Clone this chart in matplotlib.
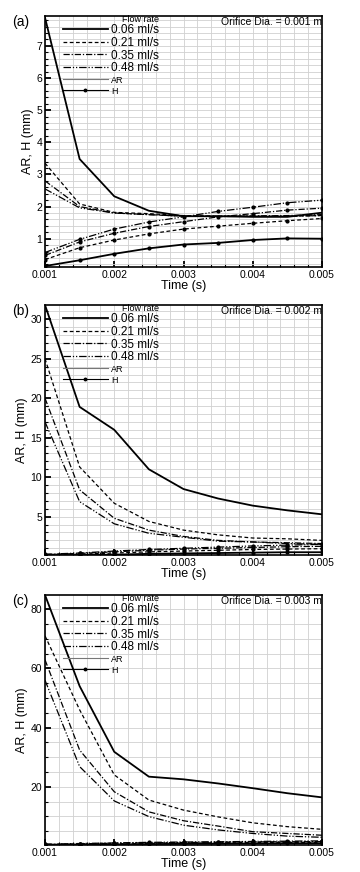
import matplotlib
matplotlib.use("Agg")
from matplotlib import pyplot as plt
from matplotlib.lines import Line2D
from matplotlib.ticker import MultipleLocator, FormatStrFormatter

plt.rcParams['font.family'] = ['Liberation Sans', 'DejaVu Sans']

# время, с
time_s = [0.001, 0.0015, 0.002, 0.0025, 0.003, 0.0035, 0.004, 0.0045, 0.005]
flow_labels = ["0.06 ml/s", "0.21 ml/s", "0.35 ml/s", "0.48 ml/s"]
panel_tags = ["(a)", "(b)", "(c)"]
orifice_labels = ["Orifice Dia. = 0.001 m", "Orifice Dia. = 0.002 m",
                  "Orifice Dia. = 0.003 m"]

# (a) d = 0.001 m
ar_a = [
    [7.88, 3.48, 2.32, 1.87, 1.70, 1.70, 1.68, 1.68, 1.81],
    [3.35, 2.08, 1.82, 1.78, 1.72, 1.70, 1.70, 1.70, 1.72],
    [2.80, 2.00, 1.80, 1.75, 1.70, 1.70, 1.71, 1.72, 1.75],
    [2.55, 1.96, 1.80, 1.75, 1.70, 1.69, 1.70, 1.70, 1.72],
]
h_a = [
    [0.15, 0.33, 0.53, 0.70, 0.82, 0.87, 0.96, 1.01, 1.00],
    [0.35, 0.72, 0.96, 1.15, 1.30, 1.39, 1.48, 1.56, 1.63],
    [0.48, 0.90, 1.17, 1.38, 1.53, 1.68, 1.78, 1.89, 1.95],
    [0.57, 0.98, 1.30, 1.52, 1.68, 1.85, 1.98, 2.12, 2.20],
]

# (b) d = 0.002 m
ar_b = [
    [31.8, 18.9, 16.0, 11.0, 8.5, 7.3, 6.4, 5.8, 5.3],
    [25.0, 11.3, 6.7, 4.4, 3.3, 2.7, 2.3, 2.2, 2.0],
    [20.0, 8.4, 4.8, 3.3, 2.5, 2.0, 1.8, 1.7, 1.6],
    [17.0, 6.9, 4.1, 2.9, 2.4, 1.9, 1.8, 1.6, 1.5],
]
h_b = [
    [0.10, 0.15, 0.20, 0.30, 0.35, 0.40, 0.45, 0.50, 0.50],
    [0.15, 0.25, 0.40, 0.55, 0.65, 0.75, 0.85, 0.90, 0.95],
    [0.20, 0.35, 0.55, 0.75, 0.90, 1.00, 1.10, 1.20, 1.25],
    [0.25, 0.40, 0.65, 0.85, 1.00, 1.15, 1.30, 1.40, 1.50],
]

# (c) d = 0.003 m
ar_c = [
    [84.8, 54.0, 31.8, 23.4, 22.5, 21.1, 19.5, 17.8, 16.4],
    [71.0, 46.0, 24.0, 15.5, 12.1, 9.8, 7.8, 6.5, 5.6],
    [62.9, 32.4, 18.3, 11.5, 8.5, 6.7, 4.8, 4.2, 3.6],
    [56.0, 26.8, 15.2, 9.9, 7.0, 5.4, 4.2, 3.3, 2.9],
]
h_c = [
    [0.30, 0.40, 0.50, 0.60, 0.70, 0.75, 0.80, 0.85, 0.90],
    [0.40, 0.55, 0.70, 0.85, 0.95, 1.05, 1.10, 1.15, 1.20],
    [0.50, 0.70, 0.90, 1.05, 1.15, 1.25, 1.35, 1.40, 1.45],
    [0.60, 0.80, 1.00, 1.20, 1.30, 1.40, 1.50, 1.60, 1.70],
]

ylims = [(0.12, 7.93), (0.15, 31.8), (0.3, 84.8)]
y_major = [1, 5, 20]
y_minor = [0.2, 1, 5]

STYLES = ['-', (0, (3, 2)), (0, (5, 1.5, 1, 1.5)), (0, (6, 1.5, 1, 1.5, 1, 1.5))]
WIDTHS = [1.3, 0.9, 0.9, 0.9]


def draw_panel(ax, ar, h, tag, orifice, ylim, major, minor):
    """
    Одна панель: AR (без маркеров) и H (с точками)
    """
    for i in range(len(flow_labels)):
        ax.plot(time_s, ar[i], color='k', ls=STYLES[i], lw=WIDTHS[i])
        ax.plot(time_s, h[i], color='k', ls=STYLES[i], lw=WIDTHS[i],
                marker='o', ms=2)

    ax.set_xlim(0.001, 0.005)
    ax.set_ylim(*ylim)
    ax.xaxis.set_major_locator(MultipleLocator(0.001))
    ax.xaxis.set_minor_locator(MultipleLocator(0.0002))
    ax.xaxis.set_major_formatter(FormatStrFormatter('%.3f'))
    ax.yaxis.set_major_locator(MultipleLocator(major))
    ax.yaxis.set_minor_locator(MultipleLocator(minor))

    ax.set_axisbelow(True)
    ax.grid(which='both', color='#d0d0d0', lw=0.6)
    ax.tick_params(which='major', direction='in', length=4, width=1.3,
                   labelsize=7.5, top=False, right=False, pad=2)
    ax.tick_params(which='minor', direction='in', length=2, width=0.8,
                   top=False, right=False)
    for sp in ax.spines.values():
        sp.set_linewidth(1.2)

    ax.set_xlabel("Time (s)", fontsize=9, labelpad=0)
    ax.set_ylabel("AR, H (mm)", fontsize=9, labelpad=2)

    ax.text(-0.12, 1.005, tag, transform=ax.transAxes, ha='left', va='top',
            fontsize=10)
    ax.text(1.0, 0.995, orifice, transform=ax.transAxes, ha='right', va='top',
            fontsize=7.5)

    handles = [Line2D([], [], color='k', ls=STYLES[i], lw=WIDTHS[i])
               for i in range(len(flow_labels))]
    handles.append(Line2D([], [], color='#777777', lw=0.8))
    handles.append(Line2D([], [], color='k', lw=0.8, marker='o', ms=1.8))
    labels = flow_labels + ["AR", "H"]
    leg = ax.legend(handles, labels, title="Flow rate", loc='upper left',
                    bbox_to_anchor=(0.065, 1.005), frameon=False, fontsize=8.5,
                    title_fontsize=6.5, handlelength=3.8, labelspacing=0.05,
                    handletextpad=0.25, borderaxespad=0, borderpad=0,
                    alignment='right')
    for t in leg.get_texts()[4:]:
        t.set_fontsize(6.5)


def main() -> None:
    fig = plt.figure(figsize=(3.6, 8.72), dpi=100)
    left, width = 45 / 360, 277 / 360
    tops = [16, 305, 595]
    heights = [251, 250, 250]
    ars = [ar_a, ar_b, ar_c]
    hs = [h_a, h_b, h_c]

    for k in range(3):
        bottom = 1 - (tops[k] + heights[k]) / 872
        ax = fig.add_axes([left, bottom, width, heights[k] / 872])
        draw_panel(ax, ars[k], hs[k], panel_tags[k], orifice_labels[k],
                   ylims[k], y_major[k], y_minor[k])

    fig.savefig("out.png", dpi=100)


if __name__ == '__main__':
    main()
